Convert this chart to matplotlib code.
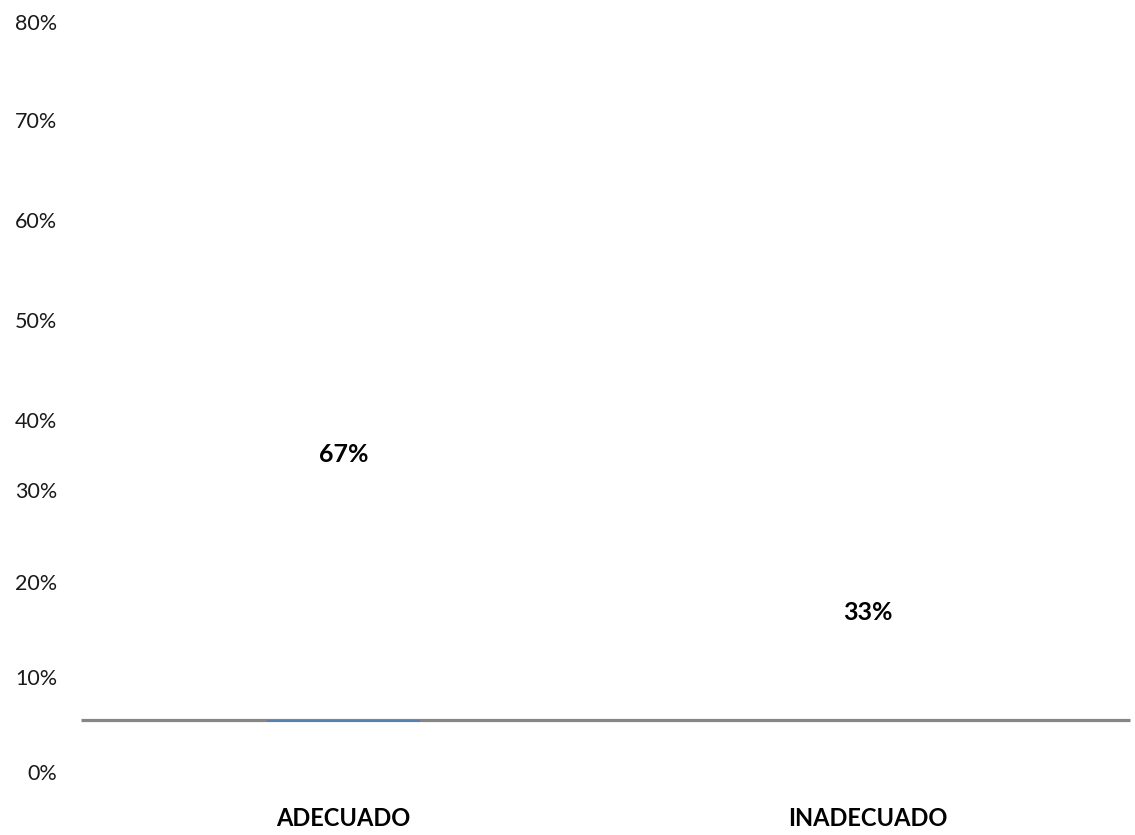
import matplotlib
matplotlib.use("Agg")
import matplotlib.pyplot as plt
import matplotlib.transforms as mtransforms

categories = ["ADECUADO", "INADECUADO"]
values = [0.67, 0.33]
tick_labels = ["80%", "70%", "60%", "50%", "40%", "30%", "20%", "10%", "0%"]

# layout (pixel positions from top of the image)
W, H = 1135, 835
tick_y = [23.5, 122.5, 222.5, 322.5, 422, 492, 583.5, 679, 774.5]
label_y = [454, 612.5]
baseline_y = 719.5
cat_y = 818

plt.rcParams['font.family'] = ['Lato', 'DejaVu Sans']
fig = plt.figure(figsize=(W / 100, H / 100), dpi=100)
ax = fig.add_axes([0, 0, 1, 1])
ax.set_axis_off()
sp = 524.5
x0 = 343.5
ax.set_xlim(-x0 / sp, (W - x0) / sp)
ax.set_ylim(H, 0)

xs = list(range(len(categories)))

# collapsed bars (only the first remnant is visible)
ax.bar(xs, [0, 0], bottom=baseline_y + 1.2, width=0.29, color='#4f81bd',
       edgecolor=['#4f81bd', 'none'], linewidth=1.2, zorder=3)
# baseline
ax.hlines(baseline_y, -0.5, 1.5, color='#868686', linewidth=2.3, zorder=2)

# value labels
for x, v, ly in zip(xs, values, label_y):
    ax.text(x, ly, f"{v:.0%}", ha='center', va='center', fontsize=18,
            fontweight='bold', color='black', zorder=4)

# category labels
for x, c in zip(xs, categories):
    ax.text(x, cat_y, c, ha='center', va='center', fontsize=17,
            fontweight='bold', color='black')

# y tick labels
trans = mtransforms.blended_transform_factory(fig.transFigure, ax.transData)
for t, y in zip(tick_labels, tick_y):
    ax.text(57 / W, y, t, transform=trans, ha='right', va='center',
            fontsize=15.5, color='#1a1a1a')

fig.savefig("out.png", dpi=100)
